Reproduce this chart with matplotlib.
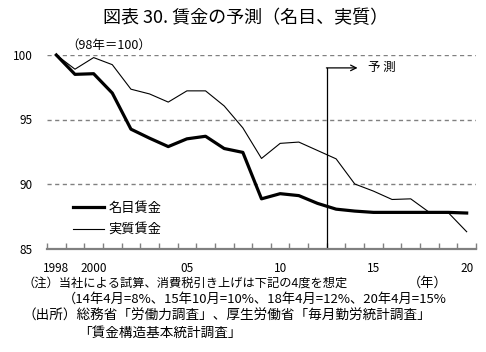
import matplotlib
matplotlib.use('Agg')
import matplotlib.pyplot as plt

plt.rcParams['font.family'] = ['Noto Sans CJK JP', 'DejaVu Sans']

# years and index values (98 = 100)
years = list(range(1998, 2021))
nominal = [100, 98.5, 98.55, 97.05, 94.25, 93.55, 92.9, 93.5, 93.7, 92.75, 92.45,
           88.85, 89.25, 89.1, 88.5, 88.05, 87.9, 87.8, 87.8, 87.8, 87.8, 87.8, 87.75]
real = [100, 98.9, 99.8, 99.25, 97.35, 96.98, 96.35, 97.22, 97.22, 96.05, 94.35,
        91.98, 93.15, 93.25, 92.6, 91.95, 90.0, 89.45, 88.8, 88.85, 87.8, 87.8, 86.3]
label_years = [1998, 2000, 2005, 2010, 2015, 2020]
label_text = ['1998', '2000', '05', '10', '15', '20']
forecast_start = 2012.5

W, H = 486, 352
fig = plt.figure(figsize=(W / 100, H / 100), dpi=100)
ax = fig.add_axes([47 / W, 1 - 248.5 / H, 429 / W, (248.5 - 55) / H])

ax.plot(years, nominal, color='black', lw=2.3, solid_joinstyle='round', clip_on=False,
        label='名目賃金')
ax.plot(years, real, color='black', lw=0.8, clip_on=False, label='実質賃金')

ax.set_xlim(1997.5, 2020.5)
ax.set_ylim(85, 100)

for v in [90, 95, 100]:
    ax.axhline(v, color='#808080', lw=1, ls=(0, (3, 2.5)), zorder=0)

for s in ['top', 'left', 'right']:
    ax.spines[s].set_visible(False)
ax.spines['bottom'].set_color('#808080')
ax.spines['bottom'].set_linewidth(1.6)

ax.set_xticks(label_years)
ax.set_xticklabels(label_text, fontsize=8.5)
ax.set_xticks([y - 0.5 for y in years] + [2020.5], minor=True)
ax.tick_params(axis='x', which='major', length=0, pad=10)
ax.tick_params(axis='x', which='minor', direction='in', length=4, color='#808080', width=1)
ax.set_yticks([85, 90, 95, 100])
ax.tick_params(axis='y', length=0, pad=10, labelsize=8.5)

# forecast marker
ax.plot([forecast_start, forecast_start], [85, 99.0], color='black', lw=0.9)
ax.annotate('', xy=(2014.15, 99.0), xytext=(forecast_start - 0.02, 99.0),
            arrowprops=dict(arrowstyle='->', color='black', lw=0.9,
                            shrinkA=0, shrinkB=0))
ax.text(2014.7, 99.0, '予 測', fontsize=9, va='center', ha='left')

ax.legend(loc='upper left', bbox_to_anchor=(0.06, 0.24), frameon=False,
          fontsize=9.5, handlelength=2.4, handletextpad=0.3, labelspacing=0.65,
          borderaxespad=0, borderpad=0)

fig.text(246 / W, 1 - 18 / H, '図表 30. 賃金の予測（名目、実質）', fontsize=13,
         ha='center', va='center')
fig.text(66 / W, 1 - 45 / H, '（98年＝100）', fontsize=9, ha='left', va='center')

fig.text(22 / W, 1 - 283 / H, '（注）当社による試算、消費税引き上げは下記の4度を想定',
         fontsize=8.8, ha='left', va='center')
fig.text(408 / W, 1 - 283 / H, '（年）', fontsize=9.5, ha='left', va='center')
fig.text(63 / W, 1 - 299 / H,
         '（14年4月=8%、15年10月=10%、18年4月=12%、20年4月=15%',
         fontsize=9.5, ha='left', va='center')
fig.text(22 / W, 1 - 316 / H, '（出所）総務省「労働力調査」、厚生労働省「毎月勤労統計調査」',
         fontsize=9.8, ha='left', va='center')
fig.text(78 / W, 1 - 333 / H, '「賃金構造基本統計調査」', fontsize=9.8,
         ha='left', va='center')

plt.savefig('out.png', dpi=100)
